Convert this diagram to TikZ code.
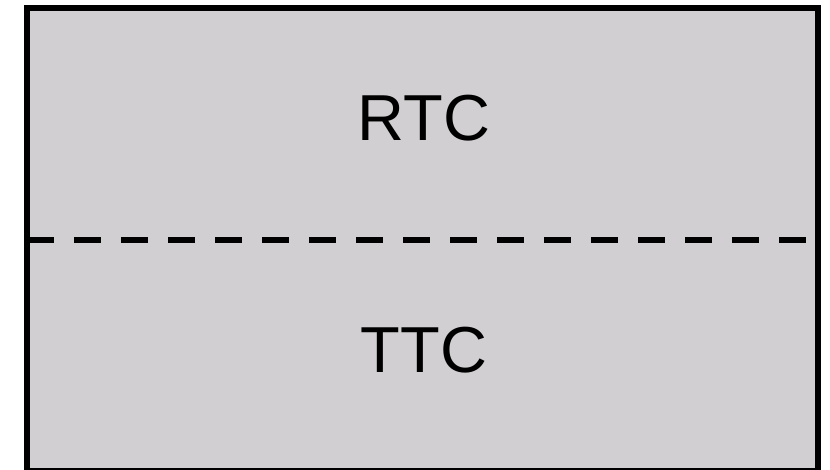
\documentclass[tikz,border=0pt]{standalone}
\usepackage{fontspec}
\setmainfont{Liberation Sans}
\definecolor{boxfill}{RGB}{209,207,209}
\tikzset{
  outer/.style={draw=black, line width=6pt, fill=boxfill},
  divider/.style={draw=black, line width=6pt, dash pattern=on 27pt off 20pt},
  label/.style={font=\fontsize{65}{70}\selectfont, inner sep=0pt, anchor=center}
}
\begin{document}
\begin{tikzpicture}[x=1pt,y=-1pt]
\useasboundingbox (0,0) rectangle (830,469);
\draw[outer] (27,8) rectangle (818,471);
\coordinate (dl) at (27,240);
\coordinate (dr) at (818,240);
\draw[divider] (dl) -- (dr);
\node[label] (rtc) at (424,118.5) {\vphantom{T}RTC};
\node[label] (ttc) at (424,350) {TTC};
\end{tikzpicture}
\end{document}
